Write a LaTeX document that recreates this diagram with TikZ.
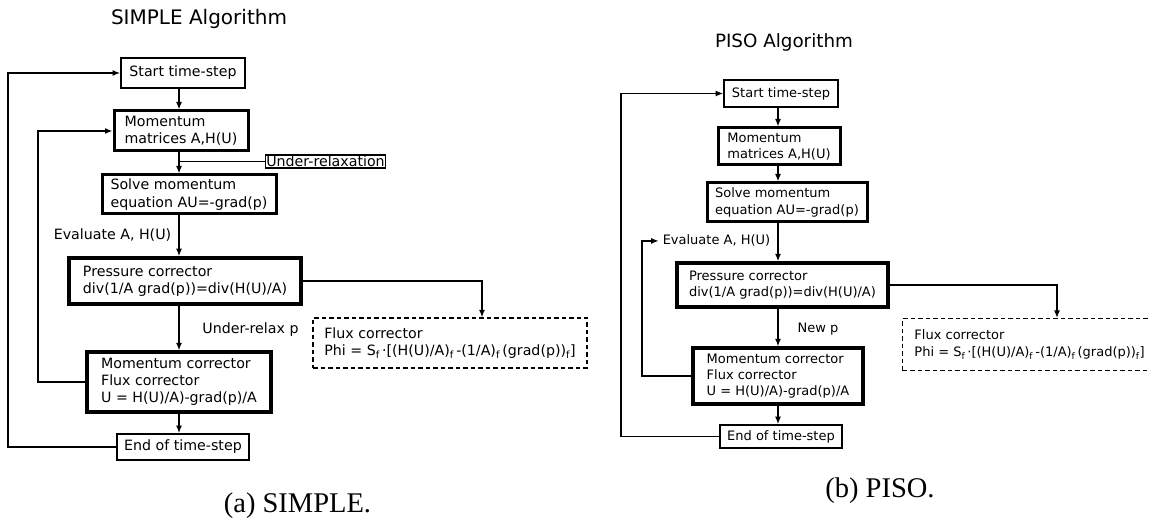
\documentclass[tikz,border=0pt]{standalone}
\usepackage{fontspec}
\setmainfont{DejaVu Sans}
\newfontfamily\capfont{Liberation Serif}
\usetikzlibrary{arrows.meta}

\begin{document}
\begin{tikzpicture}[x=1pt,y=-1pt,>={Latex[length=7.5pt,width=6pt]},line width=1.4pt]
  \tikzstyle{thin box}=[draw,line width=1.7pt,inner sep=0pt,align=left]
  \tikzstyle{thick box}=[draw,line width=3pt,inner sep=0pt,align=left]
  \tikzstyle{flux box}=[draw,line width=1.2pt,dash pattern=on 4.5pt off 3pt,inner sep=0pt,align=left]
  \tikzstyle{simple}=[font=\fontsize{14.2}{17.3}\selectfont]
  \tikzstyle{piso}=[font=\fontsize{13}{16.3}\selectfont]
  \tikzstyle{title}=[anchor=base,font=\fontsize{20}{24}\selectfont]
  \tikzstyle{caption}=[anchor=base,font=\capfont\fontsize{28.5}{32}\selectfont]
  \useasboundingbox (0,0) rectangle (1149,518);

  % SIMPLE
  \node(stitle)[title] at (199,25) {SIMPLE Algorithm};
  \node(sstart)[thin box,simple,minimum width=124pt,minimum height=30pt] at (183,73) {Start time-step};
  \node(smom)[thick box,simple,minimum width=134pt,minimum height=40pt] at (181,131) {Momentum\\matrices A,H(U)};
  \node(surelax)[draw,line width=1.1pt,inner sep=1pt,simple] at (325.5,161.5) {Under-relaxation};
  \node(ssolve)[thick box,simple,minimum width=174pt,minimum height=39pt] at (189,194.5) {Solve momentum\\equation AU=-grad(p)};
  \node(seval)[simple,anchor=base] at (112.5,240) {Evaluate A, H(U)};
  \node(spress)[thick box,line width=3.6pt,simple,minimum width=232pt,minimum height=46pt] at (185,281) {Pressure corrector\\div(1/A grad(p))=div(H(U)/A)};
  \node(surp)[simple,anchor=base] at (250.5,334) {Under-relax p};
  \node(sflux)[flux box,simple,minimum width=274pt,minimum height=50pt] at (450,343) {Flux corrector\\Phi = S\textsubscript{f}\,·[(H(U)/A)\textsubscript{f}\,-(1/A)\textsubscript{f}\,(grad(p))\textsubscript{f}]};
  \node(smcorr)[thick box,line width=3.3pt,simple,minimum width=184pt,minimum height=60pt] at (179,382) {Momentum corrector\\Flux corrector\\U = H(U)/A)-grad(p)/A};
  \node(send)[thin box,simple,minimum width=132pt,minimum height=26pt] at (183,447) {End of time-step};
  \node(scap)[caption] at (297.5,512) {(a) SIMPLE.};

  \coordinate(sspine) at (179,0);
  \coordinate(sfluxin) at (482,0);
  \coordinate(souter) at (8,0);
  \coordinate(sinner) at (38,0);
  \draw[->] (sstart.south -| sspine) -- (smom.north -| sspine);
  \draw[->] (smom.south -| sspine) -- (ssolve.north -| sspine);
  \draw (surelax.west) -- (surelax.west -| sspine);
  \draw[->] (ssolve.south -| sspine) -- (spress.north -| sspine);
  \draw[->] (spress.south -| sspine) -- (smcorr.north -| sspine);
  \draw[->] (smcorr.south -| sspine) -- (send.north -| sspine);
  \draw[->] (spress.east) -| (sflux.north -| sfluxin);
  \draw[->] (send.west) -- (send.west -| souter) -- (sstart.west -| souter) -- (sstart.west);
  \draw[->] (smcorr.west) -- (smcorr.west -| sinner) -- (smom.west -| sinner) -- (smom.west);

  % PISO
  \node(ptitle)[title,font=\fontsize{18.3}{22}\selectfont] at (784,48) {PISO Algorithm};
  \node(pstart)[thin box,line width=1.6pt,piso,minimum width=114pt,minimum height=27pt] at (781,93.5) {Start time-step};
  \node(pmom)[thick box,piso,minimum width=122pt,minimum height=37pt] at (779,146.5) {Momentum\\matrices A,H(U)};
  \node(psolve)[thick box,piso,minimum width=160pt,minimum height=39pt] at (787,202.5) {Solve momentum\\equation AU=-grad(p)};
  \node(peval)[piso,anchor=base] at (716.5,245) {Evaluate A, H(U)};
  \node(ppress)[thick box,line width=3.4pt,piso,minimum width=211pt,minimum height=44pt] at (782.5,285) {Pressure corrector\\div(1/A grad(p))=div(H(U)/A)};
  \node(pnewp)[piso,anchor=base] at (818,333) {New p};
  \node(pflux)[flux box,piso,minimum width=254pt,minimum height=52pt,anchor=north west] at (902,318) {Flux corrector\\Phi = S\textsubscript{f}\,·[(H(U)/A)\textsubscript{f}\,-(1/A)\textsubscript{f}\,(grad(p))\textsubscript{f}]};
  \node(pmcorr)[thick box,line width=3.2pt,piso,minimum width=170pt,minimum height=56pt] at (778,376) {Momentum corrector\\Flux corrector\\U = H(U)/A)-grad(p)/A};
  \node(pend)[thin box,line width=1.6pt,piso,minimum width=122pt,minimum height=23pt] at (781,436.5) {End of time-step};
  \node(pcap)[caption] at (880,497) {(b) PISO.};

  \coordinate(pspine) at (778,0);
  \coordinate(pfluxin) at (1057,0);
  \coordinate(pouter) at (621,0);
  \coordinate(pinner) at (642,0);
  \draw[->] (pstart.south -| pspine) -- (pmom.north -| pspine);
  \draw[->] (pmom.south -| pspine) -- (psolve.north -| pspine);
  \draw[->] (psolve.south -| pspine) -- (ppress.north -| pspine);
  \draw[->] (ppress.south -| pspine) -- (pmcorr.north -| pspine);
  \draw[->] (pmcorr.south -| pspine) -- (pend.north -| pspine);
  \draw[->] (ppress.east) -| (pflux.north -| pfluxin);
  \draw[->] (pend.west) -- (pend.west -| pouter) -- (pstart.west -| pouter) -- (pstart.west);
  \draw[->] (pmcorr.west) -- (pmcorr.west -| pinner) -- (peval.west -| pinner) -- (peval.west);
\end{tikzpicture}
\end{document}
